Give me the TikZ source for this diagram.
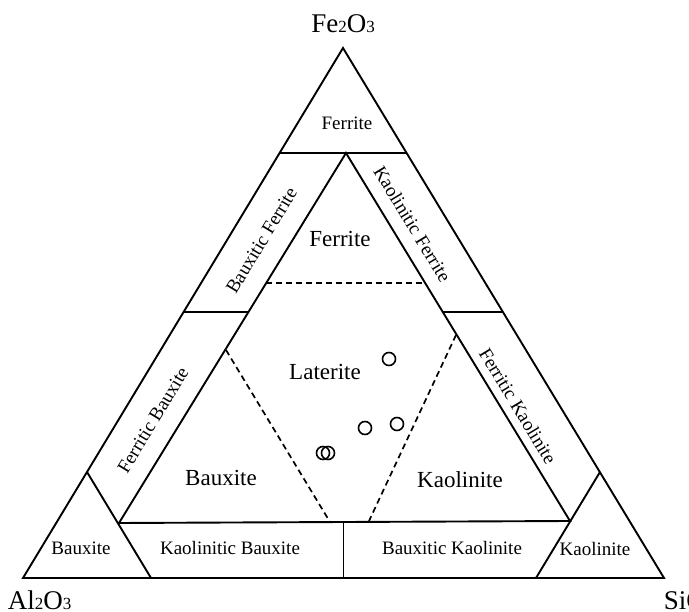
\documentclass[tikz,border=0pt]{standalone}
\usepackage{fontspec}
\setmainfont{Liberation Serif}
\newcommand{\chemsub}[1]{{\fontsize{17}{17}\selectfont #1}}
\begin{document}
\begin{tikzpicture}[x=1pt,y=-1pt,line width=1.9pt,
    corner/.style={inner sep=0pt,font=\fontsize{27}{27}\selectfont},
    big/.style={inner sep=0pt,font=\fontsize{23}{23}\selectfont},
    small/.style={inner sep=0pt,font=\fontsize{19}{19}\selectfont},
    sample/.style={circle,draw,line width=1.6pt,inner sep=0pt,minimum size=13pt},
    dashline/.style={dash pattern=on 6pt off 4pt,line width=1.7pt}]
\useasboundingbox (0,0) rectangle (689,612);
\clip (0,0) rectangle (689,612);
\coordinate (al) at (23,578);
\coordinate (fe) at (343,48);
\coordinate (si) at (664,578);
\coordinate (capl) at (280,153);
\coordinate (capr) at (406,153);
\coordinate (in) at (346,153);
\coordinate (inl) at (119,523);
\coordinate (inr) at (570,521);
\coordinate (midl) at (183,312);
\coordinate (midil) at (248,312);
\coordinate (midir) at (443,312);
\coordinate (midr) at (503,312);
\coordinate (cnl) at (87,472);
\coordinate (cnlb) at (151,578);
\coordinate (cnr) at (600,472);
\coordinate (cnrb) at (536,578);
\coordinate (basem) at (343.5,578);
\coordinate (basemt) at (343.5,522);
\coordinate (dfl) at (266,283);
\coordinate (dfr) at (425,283);
\coordinate (dbt) at (226,350);
\coordinate (dbb) at (330,522);
\coordinate (dkt) at (456,335);
\coordinate (dkb) at (369,521);
\draw (al) -- (fe) -- (si) -- cycle;
\draw (capl) -- (capr);
\draw (in) -- (inl) -- (inr) -- cycle;
\draw (midl) -- (midil);
\draw (midir) -- (midr);
\draw (cnl) -- (cnlb);
\draw (cnr) -- (cnrb);
\draw (basem) -- (basemt);
\draw[dashline] (dfl) -- (dfr);
\draw[dashline] (dbt) -- (dbb);
\draw[dashline] (dkt) -- (dkb);
\node[corner] (fe2o3) at (343,24) {Fe\chemsub{2}O\chemsub{3}};
\node[corner,anchor=base west] (al2o3) at (7,609) {Al\chemsub{2}O\chemsub{3}};
\node[corner,anchor=base west] (sio2) at (663,609) {SiO\chemsub{2}};
\node[small] (ferr1) at (347,123) {Ferrite};
\node[big] (ferr2) at (340,239) {Ferrite};
\node[big] (lat) at (325,371.5) {Laterite};
\node[big] (baux2) at (221,478) {Bauxite};
\node[big] (kaol2) at (460,480) {Kaolinite};
\node[small] (baux1) at (81,548) {Bauxite};
\node[small] (kbaux) at (230,548) {Kaolinitic Bauxite};
\node[small] (bkaol) at (452,548) {Bauxitic Kaolinite};
\node[small] (kaol1) at (595,549) {Kaolinite};
\node[small,rotate=58.9] (bferr) at (261.5,240.5) {Bauxitic Ferrite};
\node[small,rotate=58.9] (fbaux) at (153,420) {Ferritic Bauxite};
\node[small,rotate=-58.8] (kferr) at (412.5,224) {Kaolinitic Ferrite};
\node[small,rotate=-58.8] (fkaol) at (518,406) {Ferritic Kaolinite};
\node[sample] (s1) at (389,359) {};
\node[sample] (s2) at (365,428) {};
\node[sample] (s3) at (397,424) {};
\node[sample] (s4) at (323,453) {};
\node[sample] (s5) at (328,453) {};
\end{tikzpicture}
\end{document}
